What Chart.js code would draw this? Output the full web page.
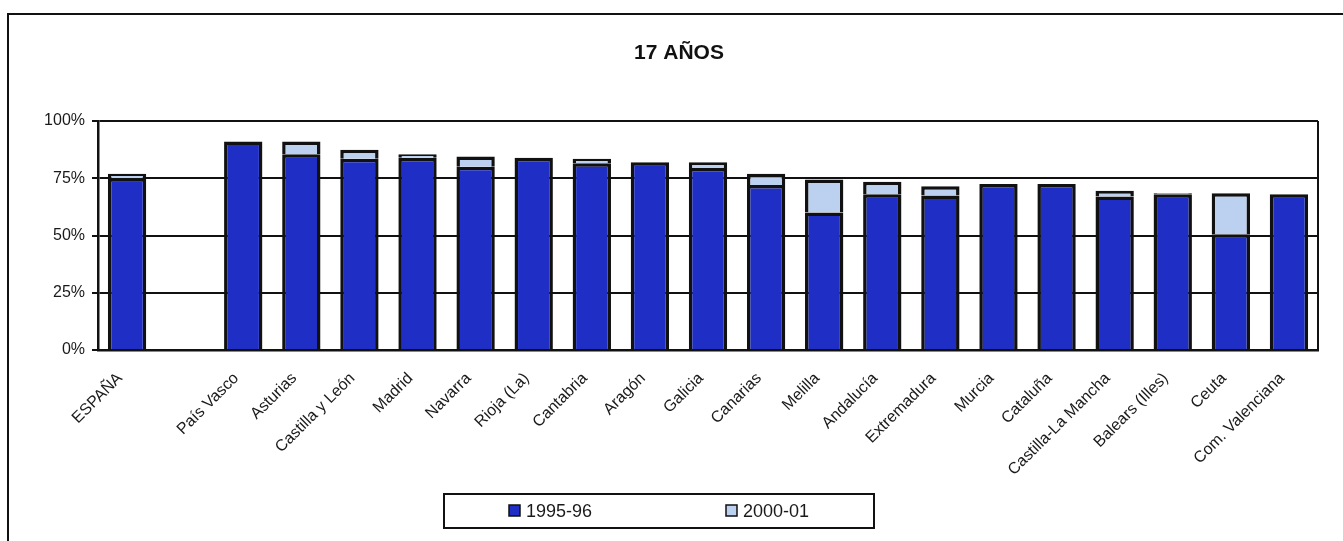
<!DOCTYPE html>
<html>
<head>
<meta charset="utf-8">
<script src="https://cdn.jsdelivr.net/npm/chart.js@4"></script>
<style>
  html, body { margin: 0; padding: 0; background: #fff; }
  #wrap { width: 1343px; height: 541px; position: relative; }
</style>
</head>
<body>
<div id="wrap"><canvas id="chart-anos"></canvas></div>
<script>
const categorias = ["ESPAÑA", "", "País Vasco", "Asturias", "Castilla y León", "Madrid", "Navarra",
    "Rioja (La)", "Cantabria", "Aragón", "Galicia", "Canarias", "Melilla", "Andalucía",
    "Extremadura", "Murcia", "Cataluña", "Castilla-La Mancha", "Balears (Illes)", "Ceuta",
    "Com. Valenciana"];
const curso1995 = [75, null, 91, 85.5, 83.5, 84, 80, 84, 81.5, 82, 79.5, 72, 60, 68, 67.5, 72.5, 72.5, 67, 68, 50.5, 68];
const curso2000 = [2, null, 0, 5.5, 4, 1.5, 4.5, 0, 2, 0, 2.5, 5, 14.5, 5.5, 4, 0, 0, 2.5, 0.5, 18, 0];
const ticksY = [0, 25, 50, 75, 100];
const titulo = "17 AÑOS";

const azulOscuro = "#1f2fc6";
const azulClaro = "#bcd0f0";
const fuente = "'Liberation Sans', Arial, sans-serif";

// marco exterior, titulo, borde derecho del area y leyenda con recuadro
const adornos = {
    id: "adornos",
    beforeDraw(chart) {
        const ctx = chart.ctx;
        ctx.save();
        ctx.fillStyle = "#fff";
        ctx.fillRect(0, 0, chart.width, chart.height);
        ctx.strokeStyle = "#111";
        ctx.lineWidth = 2;
        ctx.strokeRect(8, 14, chart.width + 10, chart.height + 10);

        ctx.fillStyle = "#111";
        ctx.font = "bold 21px " + fuente;
        ctx.textAlign = "center";
        ctx.textBaseline = "middle";
        ctx.fillText(titulo, 679, 53);
        ctx.restore();
    },
    afterDraw(chart) {
        const ctx = chart.ctx;
        const a = chart.chartArea;
        ctx.save();
        ctx.strokeStyle = "#111";
        ctx.lineWidth = 2;
        ctx.beginPath();
        ctx.moveTo(a.right, a.top);
        ctx.lineTo(a.right, a.bottom);
        ctx.stroke();

        // leyenda
        ctx.lineWidth = 2;
        ctx.strokeRect(444, 494, 430, 34);
        ctx.font = "18px " + fuente;
        ctx.textBaseline = "middle";
        const items = chart.data.datasets.map((d, i) => ({ label: d.label, color: d.backgroundColor, x: i === 0 ? 509 : 726 }));
        items.forEach(it => {
            ctx.fillStyle = it.color;
            ctx.fillRect(it.x, 505, 11, 11);
            ctx.lineWidth = 1.5;
            ctx.strokeRect(it.x, 505, 11, 11);
            ctx.fillStyle = "#1a1a1a";
            ctx.fillText(it.label, it.x + 17, 512);
        });
        ctx.restore();
    }
};

const ctxAnos = document.getElementById("chart-anos");

const dataAnos = {
    labels: categorias,
    datasets: [
        {
            label: "1995-96",
            data: curso1995,
            backgroundColor: azulOscuro,
            borderColor: "#111",
            borderWidth: 3.5,
            barPercentage: 0.66,
            categoryPercentage: 1,
        },
        {
            label: "2000-01",
            data: curso2000,
            backgroundColor: azulClaro,
            borderColor: "#111",
            borderWidth: 3.5,
            barPercentage: 0.66,
            categoryPercentage: 1,
        },
    ],
};

const configAnos = {
    type: "bar",
    data: dataAnos,
    options: {
        responsive: false,
        animation: false,
        layout: { padding: { left: 0, right: 25, top: 121, bottom: 0 } },
        plugins: {
            legend: { display: false },
            tooltip: { enabled: false },
            title: { display: false },
        },
        scales: {
            x: {
                stacked: true,
                grid: { display: false, drawTicks: false },
                border: { display: true, color: "#111", width: 2.5 },
                ticks: {
                    autoSkip: false,
                    maxRotation: 45,
                    minRotation: 45,
                    padding: 19,
                    labelOffset: -7,
                    color: "#1a1a1a",
                    font: { family: fuente, size: 16 },
                },
                afterFit(scale) { scale.height = 191; },
            },
            y: {
                stacked: true,
                min: 0,
                max: 100,
                afterBuildTicks(scale) { scale.ticks = ticksY.map(v => ({ value: v })); },
                grid: { color: "#111", lineWidth: 2, tickLength: 6 },
                border: { display: true, color: "#111", width: 2.5 },
                ticks: {
                    padding: 7,
                    color: "#1a1a1a",
                    font: { family: fuente, size: 16 },
                    callback: v => v + "%",
                },
                afterFit(scale) { scale.width = 98; },
            },
        },
    },
    plugins: [adornos],
};

ctxAnos.width = 1343;
ctxAnos.height = 541;
new Chart(ctxAnos, configAnos);
</script>
</body>
</html>
